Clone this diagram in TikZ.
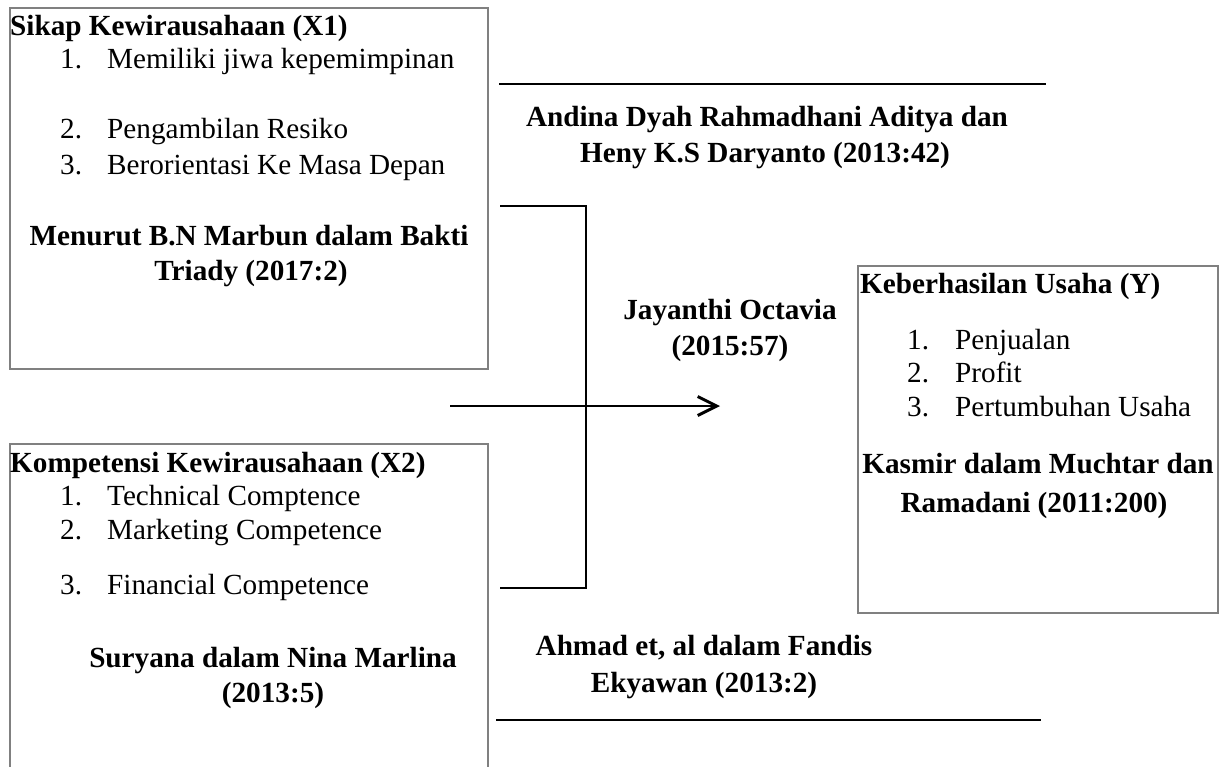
\documentclass[tikz,border=0pt]{standalone}
\usepackage{fontspec}
\setmainfont{Liberation Serif}
\usetikzlibrary{arrows.meta}
\begin{document}
\begin{tikzpicture}[x=1pt,y=-1pt,
  txt/.style={inner sep=0pt,font=\fontsize{29.2}{34}\selectfont},
  btxt/.style={inner sep=0pt,font=\fontsize{29.2}{34}\selectfont\bfseries},
  boxframe/.style={draw=black!50,line width=1.4pt},
  conn/.style={draw=black,line width=2pt}]
\useasboundingbox (0,0) rectangle (1230,766);
% boxes
\draw[boxframe] (10,8) rectangle (488,369);
\node[inner sep=0pt] (x1box) at (249,188.5) {};
\draw[boxframe] (10,800) -- (10,444) -- (488,444) -- (488,800);
\node[inner sep=0pt] (x2box) at (249,600) {};
\draw[boxframe] (858,266) rectangle (1218,613);
\node[inner sep=0pt] (ybox) at (1038,440) {};
% X1 texts
\node[btxt,anchor=base west] (x1t) at (10,35) {Sikap Kewirausahaan (X1)};
\node[txt,anchor=base west] (x1n1) at (60,68) {1.};
\node[txt,anchor=base west] (x1i1) at (107,68) {Memiliki jiwa kepemimpinan};
\node[txt,anchor=base west] (x1n2) at (60,138) {2.};
\node[txt,anchor=base west] (x1i2) at (107,138) {Pengambilan Resiko};
\node[txt,anchor=base west] (x1n3) at (60,174) {3.};
\node[txt,anchor=base west] (x1i3) at (107,174) {Berorientasi Ke Masa Depan};
\node[btxt,anchor=base] (x1r1) at (249,245) {Menurut B.N Marbun dalam Bakti};
\node[btxt,anchor=base] (x1r2) at (251,280) {Triady (2017:2)};
% X2 texts
\node[btxt,anchor=base west] (x2t) at (10,472) {Kompetensi Kewirausahaan (X2)};
\node[txt,anchor=base west] (x2n1) at (60,505) {1.};
\node[txt,anchor=base west] (x2i1) at (107,505) {Technical Comptence};
\node[txt,anchor=base west] (x2n2) at (60,539) {2.};
\node[txt,anchor=base west] (x2i2) at (107,539) {Marketing Competence};
\node[txt,anchor=base west] (x2n3) at (60,594) {3.};
\node[txt,anchor=base west] (x2i3) at (107,594) {Financial Competence};
\node[btxt,anchor=base] (x2r1) at (273,667) {Suryana dalam Nina Marlina};
\node[btxt,anchor=base] (x2r2) at (273,702) {(2013:5)};
% Y texts
\node[btxt,anchor=base west] (yt) at (860,293) {Keberhasilan Usaha (Y)};
\node[txt,anchor=base west] (yn1) at (907,349) {1.};
\node[txt,anchor=base west] (yi1) at (955,349) {Penjualan};
\node[txt,anchor=base west] (yn2) at (907,382) {2.};
\node[txt,anchor=base west] (yi2) at (955,382) {Profit};
\node[txt,anchor=base west] (yn3) at (907,416) {3.};
\node[txt,anchor=base west] (yi3) at (955,416) {Pertumbuhan Usaha};
\node[btxt,anchor=base] (yr1) at (1038,473) {Kasmir dalam Muchtar dan};
\node[btxt,anchor=base] (yr2) at (1034,512) {Ramadani (2011:200)};
% middle labels
\node[btxt,anchor=base] (a1) at (767,126) {Andina Dyah Rahmadhani Aditya dan};
\node[btxt,anchor=base] (a2) at (765,162) {Heny K.S Daryanto (2013:42)};
\node[btxt,anchor=base] (j1) at (730,319) {Jayanthi Octavia};
\node[btxt,anchor=base] (j2) at (730,355) {(2015:57)};
\node[btxt,anchor=base] (h1) at (704,655) {Ahmad et, al dalam Fandis};
\node[btxt,anchor=base] (h2) at (704,692) {Ekyawan (2013:2)};
% connector coordinates
\coordinate (t0) at (499,84);
\coordinate (t1) at (1046,84);
\coordinate (b0) at (496,720);
\coordinate (b1) at (1041,720);
\coordinate (c1) at (500,206);
\coordinate (k1) at (586,206);
\coordinate (k2) at (586,588);
\coordinate (c2) at (500,588);
\coordinate (s0) at (450,406);
\coordinate (s1) at (720,406);
% connectors
\draw[conn] (t0) -- (t1);
\draw[conn] (b0) -- (b1);
\draw[conn] (c1) -- (k1) -- (k2) -- (c2);
\draw[conn,-{Straight Barb[length=19pt,width=19pt,line width=3pt]}] (s0) -- (s1);
\end{tikzpicture}
\end{document}
